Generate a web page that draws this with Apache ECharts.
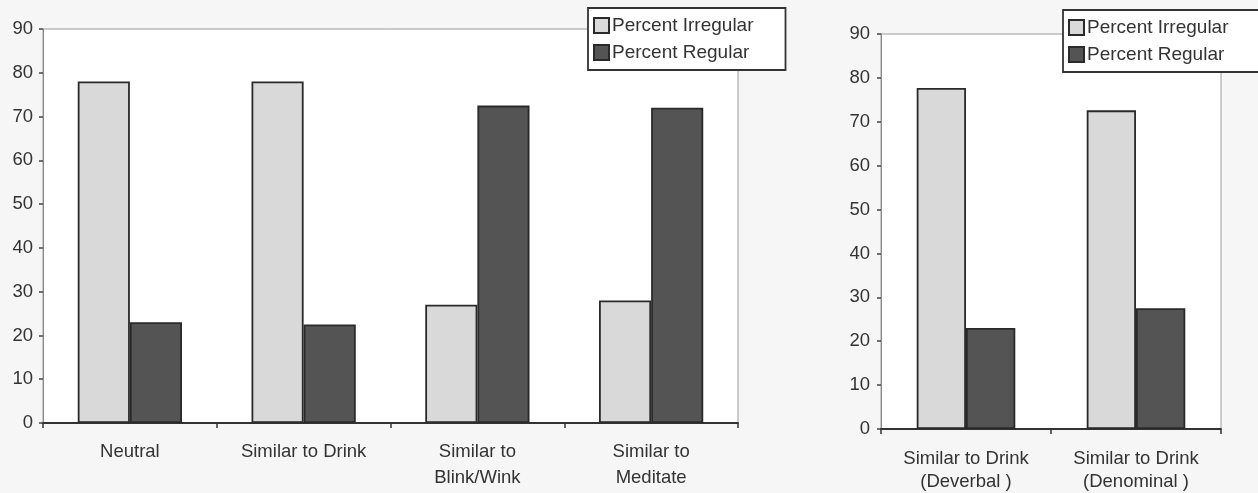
<!DOCTYPE html>
<html>
<head>
<meta charset="utf-8">
<script src="https://cdn.jsdelivr.net/npm/echarts@6/dist/echarts.min.js"></script>
<style>
  html, body { margin: 0; padding: 0; background: #f6f6f6; }
  #chart { width: 1258px; height: 493px; }
</style>
</head>
<body>
<div id="chart"></div>
<script>
// Panel A: four prime conditions
const categoriesA = ['Neutral', 'Similar to Drink', 'Similar to\nBlink/Wink', 'Similar to\nMeditate'];
const irregularA = [78, 78, 27, 28];
const regularA = [23, 22.5, 72.5, 72];

// Panel B: deverbal vs denominal
const categoriesB = ['Similar to Drink\n(Deverbal )', 'Similar to Drink\n(Denominal )'];
const irregularB = [77.7, 72.6];
const regularB = [23, 27.5];

const yTicks = { min: 0, max: 90, interval: 10 };
const seriesNames = ['Percent Irregular', 'Percent Regular'];

const font = 'Liberation Sans, Arial, sans-serif';
const textColor = '#333333';
const lightFill = '#d9d9d9';
const darkFill = '#545454';
const barBorder = '#2a2a2a';

function yAxis(gridIndex, margin) {
  return {
    type: 'value', gridIndex: gridIndex,
    min: yTicks.min, max: yTicks.max, interval: yTicks.interval,
    splitLine: { show: false },
    axisLine: { show: true, lineStyle: { color: '#8a8a8a', width: 1 } },
    axisTick: { show: true, length: 4, lineStyle: { color: '#444', width: 1.5 } },
    axisLabel: { color: textColor, fontSize: 18.5, fontFamily: font, margin: margin }
  };
}

function xAxis(gridIndex, cats, margin, lineHeight) {
  return {
    type: 'category', gridIndex: gridIndex, data: cats,
    axisLine: { show: true, lineStyle: { color: '#333', width: 1.8 } },
    axisTick: { show: true, alignWithLabel: false, length: 5, lineStyle: { color: '#333', width: 1.5 } },
    axisLabel: { color: textColor, fontSize: 18.5, fontFamily: font, margin: margin, lineHeight: lineHeight, interval: 0 }
  };
}

function bar(name, data, axisIdx, fill, catGap) {
  return {
    name: name, type: 'bar', data: data,
    xAxisIndex: axisIdx, yAxisIndex: axisIdx,
    barGap: '0%', barCategoryGap: catGap,
    itemStyle: { color: fill, borderColor: barBorder, borderWidth: 1.8 },
    emphasis: { disabled: true }
  };
}

function legend(left, top, padRight) {
  return {
    data: seriesNames, orient: 'vertical', left: left, top: top,
    icon: 'rect', itemWidth: 15, itemHeight: 15, itemGap: 8,
    padding: [8, padRight, 8, 5],
    backgroundColor: '#ffffff', borderColor: '#333', borderWidth: 1.8,
    textStyle: { color: textColor, fontSize: 19, fontFamily: font, padding: [0, 0, 0, -2] },
    selectedMode: false
  };
}

const chart = echarts.init(document.getElementById('chart'), null, { renderer: 'canvas' });
chart.setOption({
  backgroundColor: '#f6f6f6',
  animation: false,
  grid: [
    { left: 43, top: 29, right: 520, bottom: 70, show: true, backgroundColor: '#ffffff', borderColor: '#9a9a9a', borderWidth: 1 },
    { left: 881, top: 34, right: 37, bottom: 61, show: true, backgroundColor: '#ffffff', borderColor: '#9a9a9a', borderWidth: 1 }
  ],
  legend: [legend(588, 8, 32), legend(1063, 10, 40)],
  xAxis: [xAxis(0, categoriesA, 16, 26), xAxis(1, categoriesB, 18, 23)],
  yAxis: [yAxis(0, 10), yAxis(1, 11)],
  series: [
    bar(seriesNames[0], irregularA, 0, lightFill, '40%'),
    bar(seriesNames[1], regularA, 0, darkFill, '40%'),
    bar(seriesNames[0], irregularB, 1, lightFill, '42%'),
    bar(seriesNames[1], regularB, 1, darkFill, '42%')
  ]
});
</script>
</body>
</html>
